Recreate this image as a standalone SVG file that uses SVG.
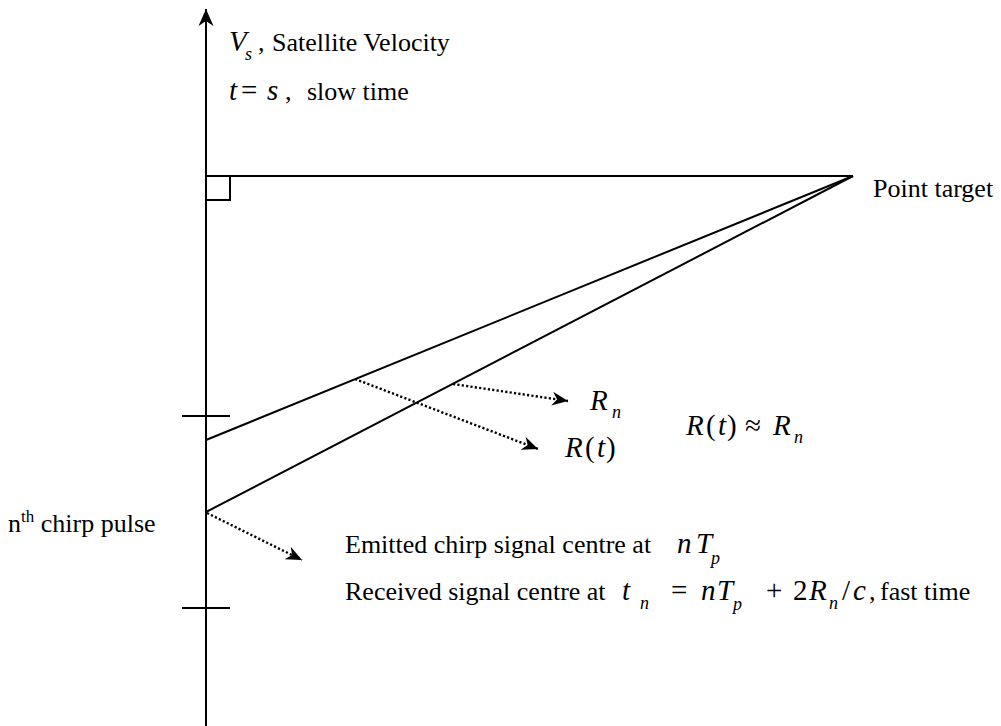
<svg xmlns="http://www.w3.org/2000/svg" width="1001" height="726" viewBox="0 0 1001 726" font-family="'Liberation Serif', 'Times New Roman', Times, serif">
<style>
.ln{stroke:#000;stroke-width:2;fill:none}
.dot{stroke:#000;stroke-width:2.4;fill:none;stroke-dasharray:2.2 2.2}
text{font-family:'Liberation Serif','Times New Roman',Times,serif;fill:#000}
.t{font-size:26px}
.m{font-size:29px;font-style:italic}
.mu{font-size:29px}
.sub{font-size:18px;font-style:italic}
.sup{font-size:17px}
</style>
<defs>
<marker id="ah" viewBox="-17 -8 18 16" refX="0" refY="0" markerWidth="18" markerHeight="16" markerUnits="userSpaceOnUse" orient="auto">
<path d="M0,0 L-16,-7 L-11,0 L-16,7 Z" fill="#000"/>
</marker>
<marker id="axh" viewBox="-18 -9 19 18" refX="0" refY="0" markerWidth="19" markerHeight="18" markerUnits="userSpaceOnUse" orient="auto">
<path d="M0,0 L-17,-7.5 L-12,0 L-17,7.5 Z" fill="#000"/>
</marker>
</defs>
<rect width="1001" height="726" fill="#fff"/>
<g id="connectors">
<line class="ln" x1="206" y1="726" x2="206" y2="9" marker-end="url(#axh)"/>
<line class="ln" x1="206" y1="176" x2="853" y2="176"/>
<polyline class="ln" points="206,200 230,200 230,176"/>
<line class="ln" x1="182" y1="416" x2="230" y2="416"/>
<line class="ln" x1="182" y1="608" x2="230" y2="608"/>
<line class="ln" x1="206" y1="440" x2="853" y2="176"/>
<line class="ln" x1="206" y1="512" x2="853" y2="176"/>
<line class="dot" x1="453" y1="384" x2="568" y2="401" marker-end="url(#ah)"/>
<line class="dot" x1="355" y1="379" x2="538" y2="449" marker-end="url(#ah)"/>
<line class="dot" x1="207" y1="513" x2="302" y2="560" marker-end="url(#ah)"/>
</g>
<g id="label-velocity">
<text class="m" x="229" y="51">V</text>
<text class="sub" x="245" y="60">s</text>
<text class="t" x="258" y="51">,</text>
<text class="t" x="272" y="51">Satellite Velocity</text>
</g>
<g id="label-slowtime">
<text class="m" x="229" y="100">t</text>
<text class="mu" x="241" y="100">=</text>
<text class="m" x="267" y="100">s</text>
<text class="t" x="285" y="100">,</text>
<text class="t" x="307" y="100">slow time</text>
</g>
<g id="node-point-target">
<text class="t" x="873" y="197">Point target</text>
</g>
<g id="label-Rn">
<text class="m" x="590" y="410">R</text>
<text class="sub" x="612" y="418">n</text>
</g>
<g id="label-Rt">
<text class="m" x="565" y="457">R</text>
<text class="mu" x="585" y="457">(</text>
<text class="m" x="597" y="457">t</text>
<text class="mu" x="606" y="457">)</text>
</g>
<g id="label-approx">
<text class="m" x="686" y="435">R</text>
<text class="mu" x="706" y="435">(</text>
<text class="m" x="718" y="435">t</text>
<text class="mu" x="727" y="435">)</text>
<text class="mu" x="745" y="435">≈</text>
<text class="m" x="773" y="435">R</text>
<text class="sub" x="794" y="443">n</text>
</g>
<g id="node-chirp-pulse">
<text class="t" x="8" y="532">n<tspan class="sup" dy="-10">th</tspan><tspan dy="10"> chirp pulse</tspan></text>
</g>
<g id="label-emitted">
<text class="t" x="345" y="553">Emitted chirp signal centre at</text>
<text class="m" x="677" y="553">n</text>
<text class="m" x="696" y="553">T</text>
<text class="sub" x="711" y="564">p</text>
</g>
<g id="label-received">
<text class="t" x="345" y="600">Received signal centre at</text>
<text class="m" x="622" y="600">t</text>
<text class="sub" x="640" y="609">n</text>
<text class="mu" x="671" y="600">=</text>
<text class="m" x="701" y="600">n</text>
<text class="m" x="717" y="600">T</text>
<text class="sub" x="733" y="610">p</text>
<text class="mu" x="766" y="600">+</text>
<text class="mu" x="793" y="600">2</text>
<text class="m" x="809" y="600">R</text>
<text class="sub" x="829" y="609">n</text>
<text class="mu" x="842" y="600">/</text>
<text class="m" x="853" y="600">c</text>
<text class="t" x="869" y="600">,</text>
<text class="t" x="880" y="600">fast time</text>
</g>
</svg>
